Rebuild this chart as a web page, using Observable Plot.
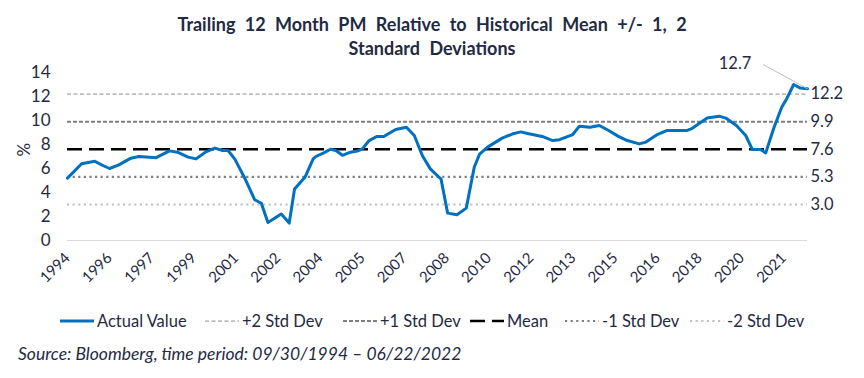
<!DOCTYPE html>
<html><head><meta charset="utf-8">
<script src="https://cdn.jsdelivr.net/npm/d3@7"></script>
<script src="https://cdn.jsdelivr.net/npm/@observablehq/plot@0.6"></script>
<style>
body{margin:0;background:#fff;font-family:Lato, sans-serif;color:#1f2a44;}
#wrap{position:relative;width:864px;height:378px;overflow:hidden;}
#title{position:absolute;top:12px;left:0;width:864px;text-align:center;font-weight:bold;font-size:18px;line-height:24px;word-spacing:5px;}
#chart{position:absolute;top:60px;left:0;}
#legend{position:absolute;top:310px;left:0;width:864px;height:22px;font-size:16.5px;white-space:nowrap;}
#legend .item{position:absolute;top:0;display:flex;align-items:center;height:22px;}
#legend svg{display:block;margin-right:3px;}
#caption{position:absolute;top:343px;left:18px;font-style:italic;font-size:17.5px;white-space:nowrap;}
</style></head>
<body>
<div id="wrap">
  <div id="title">Trailing 12 Month PM Relative to Historical Mean +/- 1, 2<br>Standard Deviations</div>
  <div id="chart"></div>
  <div id="legend"></div>
  <div id="caption">Source: Bloomberg, time period: 09/30/1994 – 06/22/2022</div>
</div>
<script>
// ---- data ----
const years = [1994.67,1995.2,1995.7,1996.0,1996.25,1996.6,1997.05,1997.35,1998.0,1998.5,1998.8,1999.2,1999.5,1999.85,2000.2,2000.5,2000.7,2000.95,2001.35,2001.7,2001.95,2002.2,2002.7,2003.0,2003.2,2003.6,2003.9,2004.0,2004.3,2004.55,2004.75,2005.0,2005.3,2005.55,2005.75,2006.0,2006.3,2006.55,2007.0,2007.4,2007.7,2008.0,2008.3,2008.6,2008.7,2008.95,2009.3,2009.65,2009.95,2010.15,2010.45,2011.0,2011.4,2011.7,2012.0,2012.5,2012.9,2013.15,2013.65,2013.9,2014.3,2014.65,2015.0,2015.35,2015.7,2016.15,2016.4,2016.8,2017.2,2017.5,2017.95,2018.1,2018.7,2019.15,2019.4,2019.8,2020.15,2020.4,2020.7,2020.9,2021.2,2021.5,2021.7,2021.95,2022.2,2022.47];
const values = [5.2,6.4,6.6,6.25,6.0,6.3,6.86,7.0,6.9,7.47,7.36,6.95,6.8,7.36,7.7,7.5,7.5,6.8,5.1,3.4,3.1,1.5,2.2,1.45,4.3,5.3,6.8,7.0,7.3,7.6,7.5,7.1,7.36,7.45,7.64,8.33,8.67,8.67,9.25,9.44,8.75,7.08,5.97,5.33,5.14,2.28,2.14,2.7,6.1,7.2,7.78,8.53,8.89,9.05,8.89,8.67,8.33,8.4,8.83,9.53,9.44,9.58,9.17,8.7,8.33,8.05,8.2,8.8,9.17,9.17,9.17,9.3,10.2,10.36,10.2,9.58,8.75,7.58,7.58,7.3,9.36,11.1,11.86,13.0,12.7,12.64];
const stdNames = ["+2 Std Dev","+1 Std Dev","Mean","-1 Std Dev","-2 Std Dev"];
const stdValues = [12.2, 9.9, 7.6, 5.3, 3.0];
const stdLabels = ["12.2","9.9","7.6","5.3","3.0"];
const yTicks = [0,2,4,6,8,10,12,14];
const xTickDates = ["1994-09-01","1996-04-01","1997-11-01","1999-06-01","2001-01-01","2002-08-01","2004-03-01","2005-10-01","2007-05-01","2008-12-01","2010-07-01","2012-02-01","2013-09-01","2015-04-01","2016-11-01","2018-06-01","2020-01-01","2021-08-01"];
const lastLabel = "12.7";
const annotYear = 2019.75, annotValue = 14.75;
const leaderStart = [2020.8, 14.67];
const legendNames = ["Actual Value", ...stdNames];

// ---- styles ----
const blue = "#0070c0";
const ink = "#1f2a44";
const stdStyles = {
  "+2 Std Dev": {stroke:"#bfbfbf", dash:"4,2.5", width:1.75},
  "+1 Std Dev": {stroke:"#7f7f7f", dash:"4,2", width:2},
  "Mean": {stroke:"#000000", dash:"15,7", width:2.5},
  "-1 Std Dev": {stroke:"#7f7f7f", dash:"2.2,3.4", width:2.2},
  "-2 Std Dev": {stroke:"#c0c0c0", dash:"2.2,3.4", width:2.2}
};
const legendLeft = [60, 205, 343, 470, 565, 690];

function decToDate(y){
  const yr = Math.floor(y);
  const s = Date.UTC(yr,0,1), e = Date.UTC(yr+1,0,1);
  return new Date(s + (y-yr)*(e-s));
}
const series = years.map((y,i)=>({date:decToDate(y), value:values[i]}));
const stds = stdNames.map((n,i)=>({name:n, value:stdValues[i], label:stdLabels[i]}));
const xDomain = [series[0].date, series[series.length-1].date];
const last = series[series.length-1];

const marks = [
  Plot.ruleY([0], {stroke:"#d9d9d9", strokeWidth:1}),
  ...stds.map(s => Plot.ruleY([s], {y:"value", stroke:stdStyles[s.name].stroke, strokeWidth:stdStyles[s.name].width, strokeDasharray:stdStyles[s.name].dash})),
  Plot.line(series, {x:"date", y:"value", stroke:blue, strokeWidth:3, strokeLinejoin:"round"}),
  Plot.text(stds, {x:()=>xDomain[1], y:"value", text:"label", textAnchor:"start", dx:3, fontSize:16.5, fill:ink}),
  Plot.link([{x1:decToDate(leaderStart[0]), y1:leaderStart[1], x2:last.date, y2:last.value}], {x1:"x1",y1:"y1",x2:"x2",y2:"y2", stroke:"#bfbfbf", strokeWidth:1}),
  Plot.text([{x:decToDate(annotYear), y:annotValue, t:lastLabel}], {x:"x", y:"y", text:"t", fontSize:16.5, fill:ink}),
  Plot.text(["%"], {frameAnchor:"left", dx:-43, rotate:-90, fontSize:17, fill:ink}),
  Plot.axisY({ticks:yTicks, tickSize:0, tickPadding:17, fontSize:17, label:null}),
  Plot.axisX({ticks:xTickDates.map(d=>new Date(d)), tickFormat:d3.utcFormat("%Y"), tickRotate:-45, tickSize:0, tickPadding:15, fontSize:15, label:null, dx:0})
];

const chart = Plot.plot({
  width:864, height:240,
  marginLeft:67, marginRight:57, marginTop:12, marginBottom:60,
  x:{type:"utc", domain:xDomain},
  y:{domain:[0,14]},
  style:{fontFamily:"Lato, sans-serif", color:ink, background:"transparent", overflow:"visible"},
  marks
});
document.getElementById("chart").appendChild(chart);

// legend
const legend = document.getElementById("legend");
legendNames.forEach((name,i)=>{
  const div = document.createElement("div");
  div.className = "item";
  div.style.left = legendLeft[i] + "px";
  const w = 34;
  const st = name==="Actual Value" ? {stroke:blue, dash:null, width:3} : stdStyles[name];
  div.innerHTML = `<svg width="${w}" height="12"><line x1="0" x2="${w}" y1="6" y2="6" stroke="${st.stroke}" stroke-width="${st.width}" ${st.dash?`stroke-dasharray="${st.dash}"`:""}/></svg><span>${name}</span>`;
  legend.appendChild(div);
});
</script>
</body></html>
